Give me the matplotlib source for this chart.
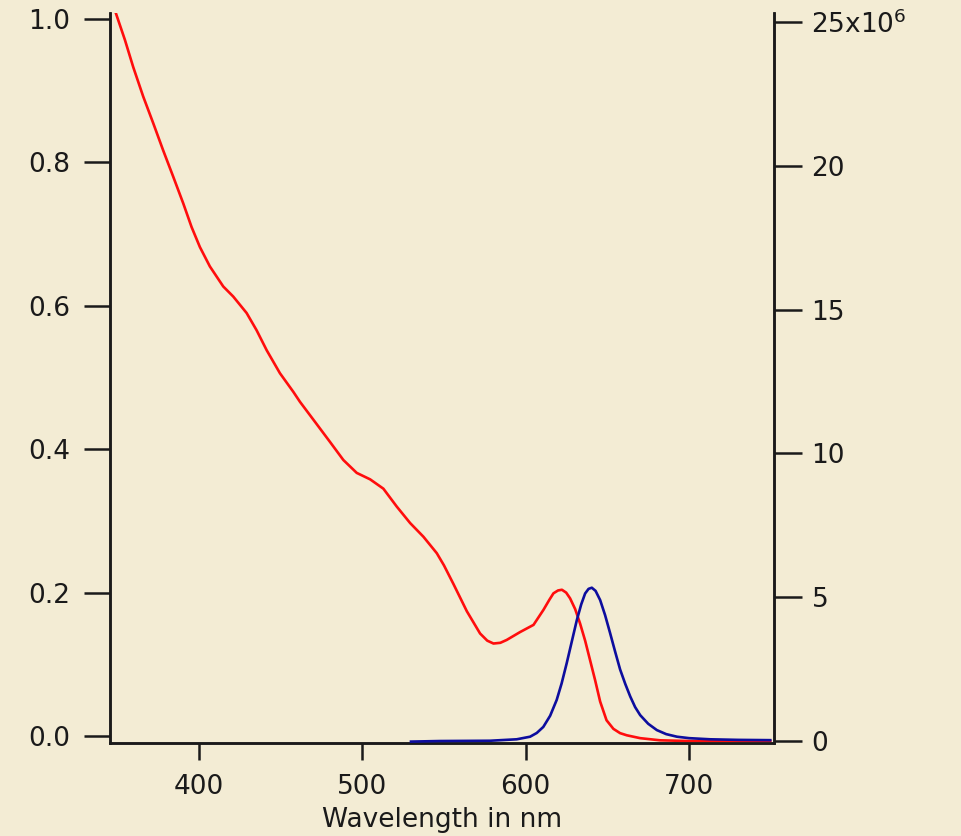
"""
Absorption and emission spectra on twin y axes.
"""

import matplotlib

matplotlib.use("Agg")

import matplotlib.pyplot as plt

# ----------------------------------------------------
# Data
# ----------------------------------------------------

abs_wavelength = [
    349.2, 354.7, 359.8, 365.9, 372.0, 378.1, 384.3, 390.4, 395.5, 400.6,
    406.7, 414.9, 421.0, 429.2, 435.3, 441.5, 449.6, 457.8, 461.9, 472.1,
    480.3, 488.4, 496.6, 504.8, 512.9, 521.1, 529.3, 537.4, 545.6, 550.0,
    555.8, 564.0, 572.1, 576.5, 580.3, 584.5, 588.4, 596.6, 604.8, 610.9,
    614.5, 617.0, 619.8, 622.2, 624.8, 627.2, 630.3, 633.3, 636.4, 639.4,
    642.5, 645.6, 649.5, 653.7, 657.8, 661.9, 666.0, 670.1, 682.3, 700.0,
    720.0, 749.7,
]
absorbance = [
    1.008, 0.971, 0.933, 0.892, 0.855, 0.817, 0.780, 0.743, 0.710, 0.682,
    0.655, 0.627, 0.613, 0.590, 0.566, 0.538, 0.506, 0.480, 0.466, 0.435,
    0.410, 0.385, 0.367, 0.358, 0.345, 0.320, 0.297, 0.278, 0.255, 0.238,
    0.212, 0.174, 0.143, 0.133, 0.129, 0.130, 0.134, 0.145, 0.155, 0.176,
    0.190, 0.199, 0.203, 0.204, 0.200, 0.192, 0.177, 0.157, 0.133, 0.106,
    0.078, 0.048, 0.022, 0.010, 0.004, 0.001, -0.001, -0.003, -0.006, -0.007,
    -0.007, -0.007,
]

em_wavelength = [
    529.8, 547.6, 578.2, 594.5, 602.7, 606.8, 610.8, 615.0, 619.0, 622.0,
    625.1, 628.2, 631.3, 634.0, 636.4, 638.5, 640.5, 642.8, 645.6, 648.6,
    651.7, 654.8, 657.8, 661.0, 664.0, 667.0, 670.1, 675.0, 680.3, 686.0,
    692.6, 700.0, 713.0, 730.0, 749.7,
]
emission = [
    -0.02e6, 0.0, 0.01e6, 0.06e6, 0.15e6, 0.28e6, 0.49e6, 0.88e6, 1.43e6,
    2.0e6, 2.70e6, 3.45e6, 4.20e6, 4.75e6, 5.13e6, 5.29e6, 5.33e6, 5.22e6,
    4.90e6, 4.38e6, 3.75e6, 3.10e6, 2.49e6, 1.98e6, 1.55e6, 1.18e6, 0.90e6,
    0.60e6, 0.38e6, 0.24e6, 0.15e6, 0.10e6, 0.06e6, 0.04e6, 0.03e6,
]

left_ticks = [0.0, 0.2, 0.4, 0.6, 0.8, 1.0]
left_labels = ["0.0", "0.2", "0.4", "0.6", "0.8", "1.0"]
right_ticks = [0, 5e6, 10e6, 15e6, 20e6, 25e6]
right_labels = ["0", "5", "10", "15", "20", "25x10$^{6}$"]
x_ticks = [400, 500, 600, 700]

# ----------------------------------------------------
# Figure
# ----------------------------------------------------

bg = "#f3ecd4"
ink = "#1a1a1a"

plt.rcParams["font.family"] = ["DejaVu Sans"]
plt.rcParams["font.size"] = 19

fig = plt.figure(figsize=(9.61, 8.36), dpi=100, facecolor=bg)
ax = fig.add_axes([0.1145, 0.1112, 0.6909, 0.8732])
ax.set_facecolor(bg)
ax2 = ax.twinx()

ax.plot(abs_wavelength, absorbance, color="#ff0d0d", lw=1.9, zorder=3)
ax2.plot(em_wavelength, emission, color="#0d0d9e", lw=1.9, zorder=3)

ax.set_xlim(345.6, 752)
ax.set_ylim(-0.0098, 1.0084)
ax2.set_ylim(-0.07e6, 25.31e6)

ax.set_xticks(x_ticks)
ax.set_yticks(left_ticks)
ax.set_yticklabels(left_labels)
ax2.set_yticks(right_ticks)
ax2.set_yticklabels(right_labels)

ax.set_xlabel("Wavelength in nm", labelpad=5, color=ink)

for a in (ax, ax2):
    a.spines["top"].set_visible(False)
    for s in ("left", "right", "bottom"):
        a.spines[s].set_linewidth(1.8)
        a.spines[s].set_color(ink)

ax.tick_params(axis="y", direction="out", length=19, width=1.8,
               pad=10, colors=ink)
ax.tick_params(axis="x", direction="out", length=12, width=1.8,
               pad=10, colors=ink)
ax2.tick_params(axis="y", direction="out", length=20, width=1.8,
                pad=7, colors=ink)

fig.savefig("out.png", dpi=100, facecolor=bg)
